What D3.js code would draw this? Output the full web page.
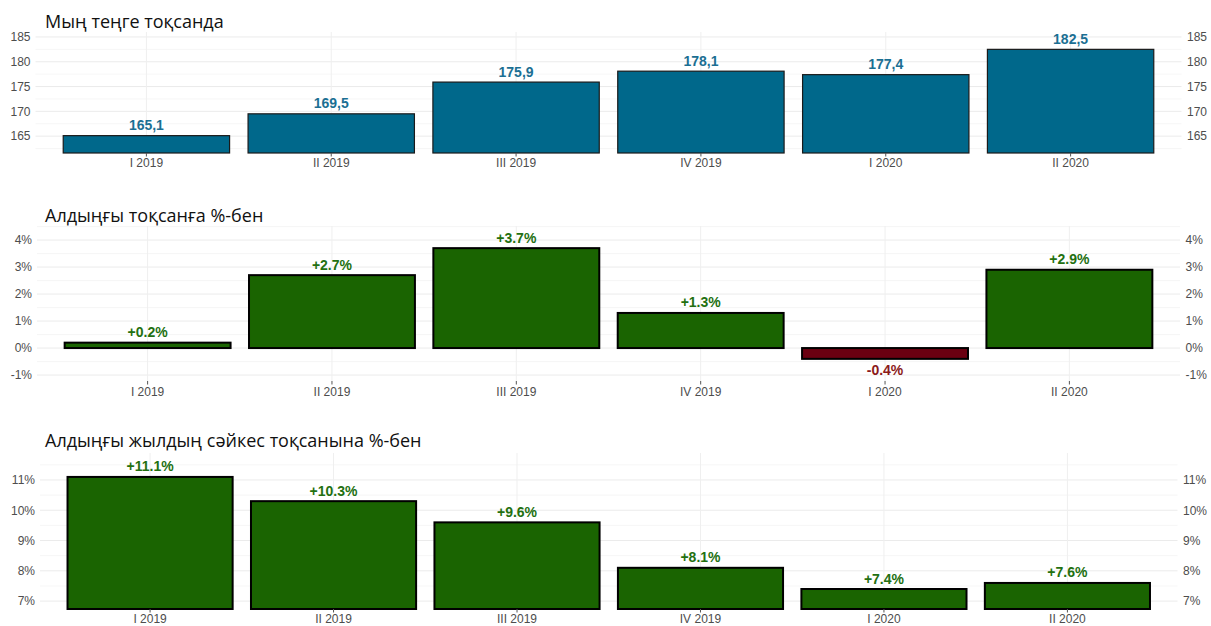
<!DOCTYPE html>
<html>
<head>
<meta charset="utf-8">
<script src="https://cdn.jsdelivr.net/npm/d3@7"></script>
<style>
  html, body { margin: 0; padding: 0; background: #ffffff; }
  svg { display: block; }
</style>
</head>
<body>
<svg id="chart" width="1211" height="626"></svg>
<script>
// ---- data ----
const quarters = ["I 2019", "II 2019", "III 2019", "IV 2019", "I 2020", "II 2020"];
const levelValues = [165.1, 169.5, 175.9, 178.1, 177.4, 182.5];
const qoqValues = [0.2, 2.7, 3.7, 1.3, -0.4, 2.9];
const yoyValues = [11.1, 10.3, 9.6, 8.1, 7.4, 7.6];
const levelTicks = [165, 170, 175, 180, 185];
const qoqTicks = [-1, 0, 1, 2, 3, 4];
const yoyTicks = [7, 8, 9, 10, 11];
const panelTitles = ["Мың теңге тоқсанда", "Алдыңғы тоқсанға %-бен", "Алдыңғы жылдың сәйкес тоқсанына %-бен"];

const svg = d3.select("#chart");
const FONT = "'Liberation Sans', Arial, sans-serif";

function drawPanel(cfg) {
  const g = svg.append("g");
  const x = d3.scaleBand().domain(quarters).range([cfg.x0, cfg.x1]).paddingInner(0.1).paddingOuter(0.15);
  const y = d3.scaleLinear().domain(cfg.domain).range([cfg.yBottom, cfg.yTop]);

  // minor gridlines
  const minor = [];
  for (let i = 0; i < cfg.ticks.length; i++) {
    [cfg.ticks[i] - cfg.step / 2, cfg.ticks[i] + cfg.step / 2].forEach(v => {
      if (v >= cfg.domain[0] && v <= cfg.domain[1] && !minor.includes(v)) minor.push(v);
    });
  }
  g.selectAll(".minor").data(minor).join("line")
    .attr("x1", cfg.x0).attr("x2", cfg.x1)
    .attr("y1", d => y(d)).attr("y2", d => y(d))
    .attr("stroke", "#f4f4f4").attr("stroke-width", 0.8);
  // major gridlines
  g.selectAll(".major").data(cfg.ticks).join("line")
    .attr("x1", cfg.x0).attr("x2", cfg.x1)
    .attr("y1", d => y(d)).attr("y2", d => y(d))
    .attr("stroke", "#ebebeb").attr("stroke-width", 1);
  g.selectAll(".vgrid").data(quarters).join("line")
    .attr("x1", d => x(d) + x.bandwidth() / 2).attr("x2", d => x(d) + x.bandwidth() / 2)
    .attr("y1", cfg.yTop).attr("y2", cfg.yBottom)
    .attr("stroke", "#efefef").attr("stroke-width", 1);

  // bars
  const base = cfg.base != null ? cfg.base : cfg.domain[0];
  g.selectAll(".bar").data(cfg.values).join("rect")
    .attr("x", (d, i) => x(quarters[i]))
    .attr("width", x.bandwidth())
    .attr("y", d => y(Math.max(d, base)))
    .attr("height", d => Math.abs(y(d) - y(base)))
    .attr("fill", d => cfg.fill(d))
    .attr("stroke", cfg.stroke).attr("stroke-width", cfg.strokeWidth);

  // value labels
  g.selectAll(".lab").data(cfg.values).join("text")
    .attr("x", (d, i) => x(quarters[i]) + x.bandwidth() / 2)
    .attr("y", d => d >= 0 ? y(d) - 5.5 : y(d) + 16)
    .attr("text-anchor", "middle")
    .attr("font-family", FONT).attr("font-weight", "bold").attr("font-size", 14)
    .attr("fill", d => cfg.labelColor(d))
    .text(d => cfg.fmt(d));

  // y axis labels (left and right)
  g.selectAll(".yl").data(cfg.ticks).join("text")
    .attr("x", cfg.x0 - 5).attr("y", d => y(d) + 4.3)
    .attr("text-anchor", "end")
    .attr("font-family", FONT).attr("font-size", 12).attr("fill", "#4d4d4d")
    .text(cfg.tickFmt);
  g.selectAll(".yr").data(cfg.ticks).join("text")
    .attr("x", cfg.x1 + 5.5).attr("y", d => y(d) + 4.3)
    .attr("text-anchor", "start")
    .attr("font-family", FONT).attr("font-size", 12).attr("fill", "#4d4d4d")
    .text(cfg.tickFmt);

  // x axis ticks + labels
  g.selectAll(".xt").data(quarters).join("line")
    .attr("x1", d => x(d) + x.bandwidth() / 2).attr("x2", d => x(d) + x.bandwidth() / 2)
    .attr("y1", cfg.yBottom).attr("y2", cfg.yBottom + 3.5)
    .attr("stroke", "#555").attr("stroke-width", 1);
  g.selectAll(".xl").data(quarters).join("text")
    .attr("x", d => x(d) + x.bandwidth() / 2).attr("y", cfg.xLabelY)
    .attr("text-anchor", "middle")
    .attr("font-family", FONT).attr("font-size", 12).attr("fill", "#4d4d4d")
    .text(d => d);

  // title
  g.append("text")
    .attr("x", 45).attr("y", cfg.titleY)
    .attr("font-family", "'Open Sans', 'Noto Sans', sans-serif").attr("font-size", 18)
    .attr("fill", "#111")
    .text(cfg.title);
}

const signPct = d => (d >= 0 ? "+" : "") + d.toFixed(1) + "%";
const green = "#1a6401", red = "#6b0011";

drawPanel({
  title: panelTitles[0], titleY: 28,
  values: levelValues, ticks: levelTicks, step: 5,
  x0: 35.5, x1: 1181.5, yTop: 32, yBottom: 153, domain: [161.6, 186.0],
  fill: () => "#00688b", stroke: "#1a1a1a", strokeWidth: 1.2,
  labelColor: () => "#1b6f93",
  fmt: d => d.toFixed(1).replace(".", ","),
  tickFmt: d => d, xLabelY: 167
});

drawPanel({
  title: panelTitles[1], titleY: 222,
  values: qoqValues, ticks: qoqTicks, step: 1, base: 0,
  x0: 37, x1: 1180, yTop: 226, yBottom: 381, domain: [-1.22, 4.52],
  fill: d => d >= 0 ? green : red, stroke: "#000", strokeWidth: 2,
  labelColor: d => d >= 0 ? "#237010" : "#8b1a1a",
  fmt: signPct,
  tickFmt: d => d + "%", xLabelY: 396
});

drawPanel({
  title: panelTitles[2], titleY: 447,
  values: yoyValues, ticks: yoyTicks, step: 1,
  x0: 40, x1: 1177.5, yTop: 453, yBottom: 609, domain: [6.74, 11.89],
  fill: () => green, stroke: "#000", strokeWidth: 2,
  labelColor: () => "#237010",
  fmt: signPct,
  tickFmt: d => d + "%", xLabelY: 622.5
});
</script>
</body>
</html>
